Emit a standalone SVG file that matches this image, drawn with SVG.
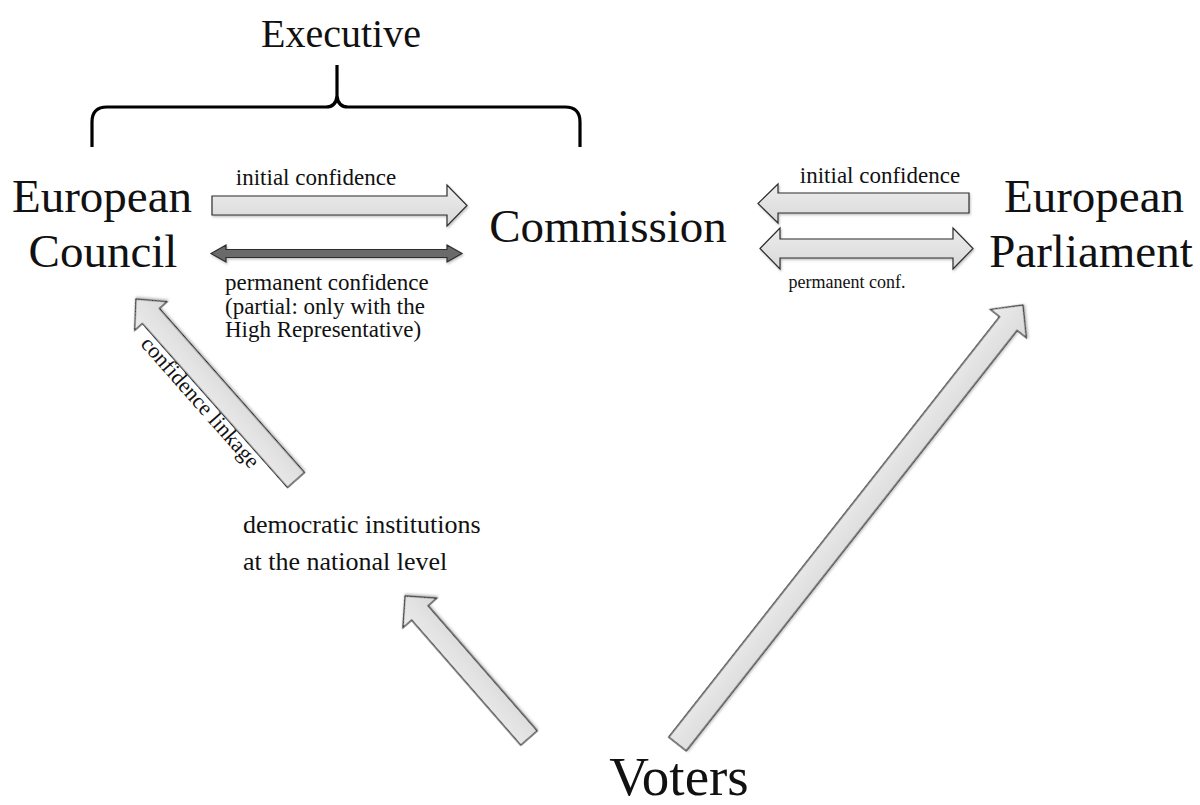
<svg xmlns="http://www.w3.org/2000/svg" width="1200" height="805" viewBox="0 0 1200 805">
<defs>
<linearGradient id="gh" x1="0" y1="0" x2="0" y2="1"><stop offset="0" stop-color="#ececec"/><stop offset="1" stop-color="#d9d9d9"/></linearGradient>
<filter id="sh" x="-10%" y="-10%" width="130%" height="130%"><feDropShadow dx="1" dy="1.5" stdDeviation="1.2" flood-color="#000" flood-opacity="0.25"/></filter>
<style>
text{font-family:"Liberation Serif","Times New Roman",serif;fill:#111}
.big{font-size:47px}
.lbl{font-size:23px}
.arr{fill:url(#gh);stroke:#2e2e2e;stroke-width:1.2;stroke-linejoin:miter;filter:url(#sh)}
.dark{fill:#6b6b6b;stroke:#2e2e2e;stroke-width:1.2;filter:url(#sh)}
</style>
</defs>
<rect width="1200" height="805" fill="#fff"/>

<g id="executive">
<text x="341" y="47" text-anchor="middle" style="font-size:40px">Executive</text>
<path d="M92,147 L92,122 Q92,107 107,107 L326,107 Q336,107 337,96 L337,65 M337,65 L337,96 Q338,107 348,107 L565,107 Q580,107 580,122 L580,147" fill="none" stroke="#000" stroke-width="3.2"/>
</g>

<g id="european-council">
<text class="big" x="102" y="212" text-anchor="middle">European</text>
<text class="big" x="103" y="267" text-anchor="middle">Council</text>
</g>

<g id="commission">
<text class="big" x="608" y="242" text-anchor="middle">Commission</text>
</g>

<g id="european-parliament">
<text class="big" x="1094" y="212" text-anchor="middle">European</text>
<text class="big" x="1091" y="267" text-anchor="middle">Parliament</text>
</g>

<g id="national-institutions">
<text style="font-size:26px" x="243" y="533">democratic institutions</text>
<text style="font-size:26px" x="243" y="570">at the national level</text>
</g>

<g id="voters">
<text x="679" y="795" text-anchor="middle" style="font-size:55px">Voters</text>
</g>

<g id="connectors">
<!-- EC -> Commission initial confidence -->
<polygon class="arr" points="212,196 447,196 447,185 467,205.5 447,226 447,215 212,215"/>
<text class="lbl" x="316" y="185" text-anchor="middle">initial confidence</text>
<!-- EC <-> Commission permanent confidence (dark) -->
<polygon class="dark" points="211,253.5 226,245 226,249.5 447,249.5 447,245 462,253.5 447,262 447,257.5 226,257.5 226,262"/>
<text style="font-size:23px" x="225" y="290">permanent confidence</text>
<text style="font-size:23px" x="225" y="313.5">(partial: only with the</text>
<text style="font-size:23px" x="225" y="337">High Representative)</text>
<!-- EP -> Commission initial confidence -->
<polygon class="arr" points="969,193 778,193 778,184 758,203.5 778,223 778,213 969,213"/>
<text class="lbl" x="880" y="183" text-anchor="middle">initial confidence</text>
<!-- EP <-> Commission permanent conf. -->
<polygon class="arr" points="760,248.5 780,228 780,239 953,239 953,228 973,248.5 953,269 953,258 780,258 780,269"/>
<text style="font-size:18px" x="847" y="288" text-anchor="middle">permanent conf.</text>
<!-- national -> EC confidence linkage -->
<polygon class="arr" transform="translate(296,480) rotate(228.5)" points="0,-11.4 219,-11.4 219,-21.7 241.6,0 219,21.7 219,11.4 0,11.4"/>
<text style="font-size:22px" transform="translate(195,407) rotate(48.5)" text-anchor="middle">confidence linkage</text>
<!-- voters -> national -->
<polygon class="arr" transform="translate(529,738) rotate(228.9)" points="0,-10.8 166,-10.8 166,-22.5 188.5,0 166,22.5 166,10.8 0,10.8"/>
<!-- voters -> EP -->
<polygon class="arr" transform="translate(677.5,744) rotate(-51.8)" points="0,-11.2 535,-11.2 535,-22.9 558.6,0 535,22.9 535,11.2 0,11.2"/>
</g>
</svg>
